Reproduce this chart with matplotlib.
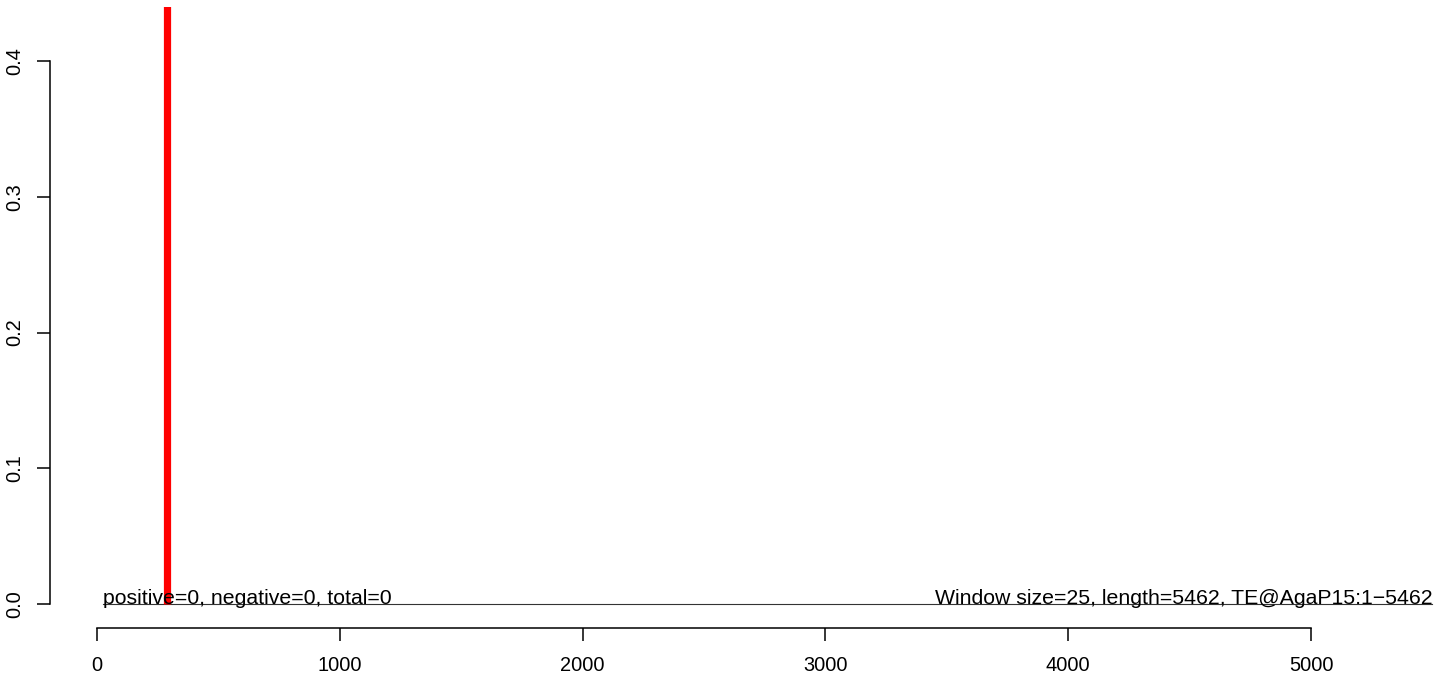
import matplotlib
matplotlib.use('Agg')
import matplotlib.pyplot as plt

# данные
window_size = 25
seq_length = 5462
line_x = [25, 5500]  # линия нулевых значений
line_y = [0, 0]
peak_x = [288]  # позиция красного пика
peak_top = [0.5]  # значение пика (выходит за верх графика)
x_ticks = [0, 1000, 2000, 3000, 4000, 5000]
y_ticks = [0.0, 0.1, 0.2, 0.3, 0.4]
left_text = 'positive=0, negative=0, total=0'
right_text = 'Window size=25, length=5462, TE@AgaP15:1\u22125462'

plt.rcParams['font.family'] = ['Liberation Sans', 'DejaVu Sans']
plt.rcParams['font.size'] = 14.4

W, H = 1444, 679
fig = plt.figure(figsize=(W / 100, H / 100), dpi=100)
# область графика в пикселях: слева 50, справа 1444, сверху 7, снизу 628
ax = fig.add_axes([50 / W, (H - 628) / H, (W - 50) / W, (628 - 7) / H])

px_per_x = (1311 - 97) / 5000
px_per_y = (604 - 61) / 0.4
ax.set_xlim((50 - 97) / px_per_x, (W - 97) / px_per_x)
ax.set_ylim((604 - 628) / px_per_y, (604 - 7) / px_per_y)

ax.plot(line_x, line_y, color='#333333', lw=0.8)
ax.vlines(peak_x, 0, peak_top, color='#ff0000', lw=5.2)

ax.text(line_x[0], 0, left_text, ha='left', va='baseline', fontsize=15.3)
ax.text(line_x[1], 0, right_text, ha='right', va='baseline', fontsize=15.3)

for s in ['top', 'right']:
    ax.spines[s].set_visible(False)
ax.spines['left'].set_bounds(0, 0.4)
ax.spines['bottom'].set_bounds(0, 5000)
ax.spines['left'].set_linewidth(1.1)
ax.spines['bottom'].set_linewidth(1.1)

ax.set_xticks(x_ticks)
ax.set_xticklabels([str(v) for v in x_ticks])
ax.set_yticks(y_ticks)
ax.set_yticklabels([f'{v:.1f}' for v in y_ticks], rotation=90, va='center')
ax.tick_params(axis='both', length=9.5, width=1.1)
ax.tick_params(axis='x', pad=11)
ax.tick_params(axis='y', pad=9)

fig.savefig('out.png', dpi=100)
